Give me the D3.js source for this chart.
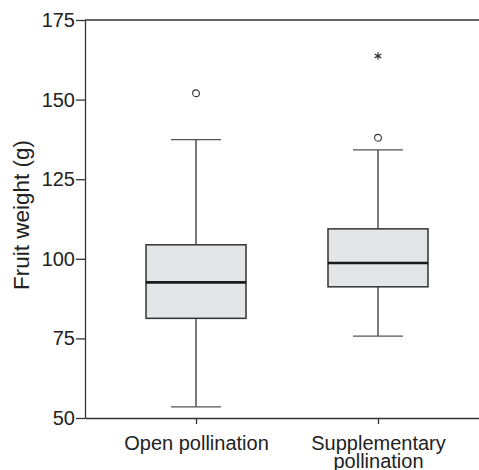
<!DOCTYPE html>
<html>
<head>
<meta charset="utf-8">
<script src="https://cdn.jsdelivr.net/npm/d3@7"></script>
<style>
	body { margin: 0; background: #fff; }
	svg { display: block; font-family: "Liberation Sans", Arial, sans-serif; }
</style>
</head>
<body>
<svg id="chart"></svg>
<script>
// Values (fruit weight, g)
const categories = ["Open pollination", "Supplementary pollination"];
const whiskerLow = [53.5, 75.7];
const q1 = [81.3, 91.2];
const median = [92.6, 98.7];
const q3 = [104.4, 109.4];
const whiskerHigh = [137.4, 134.2];
const outliers = [[152], [138]];      // drawn as circles
const extremes = [[], [163.7]];       // drawn as asterisks
const yTicks = [50, 75, 100, 125, 150, 175];

const config = {
	width: 479,
	height: 470,
	margin: { top: 20, right: -10, bottom: 52, left: 85 }
};

const innerWidth = config.width - config.margin.left - config.margin.right;
const innerHeight = config.height - config.margin.top - config.margin.bottom;

const svg = d3.select('#chart')
	.attr('width', config.width)
	.attr('height', config.height);

const chartArea = svg.append('g')
	.attr('transform', `translate(${config.margin.left},${config.margin.top})`);

const yScale = d3.scaleLinear()
	.domain([50, 175])
	.range([innerHeight, 0]);

const xScale = d3.scalePoint()
	.domain(categories)
	.range([0, innerWidth])
	.padding(0.61);

const boxes = categories.map((c, i) => ({
	cat: c,
	lo: whiskerLow[i], q1: q1[i], med: median[i], q3: q3[i], hi: whiskerHigh[i],
	out: outliers[i], ext: extremes[i]
}));

const boxWidth = 100;
const capWidth = 50;
const lineColour = '#333';

// top frame line
chartArea.append('line')
	.attr('x1', 0).attr('x2', innerWidth)
	.attr('y1', 0).attr('y2', 0)
	.attr('stroke', lineColour)
	.attr('stroke-width', 1.3);

// Axes
const yAxis = d3.axisLeft(yScale)
	.tickValues(yTicks)
	.tickSize(9)
	.tickSizeOuter(0)
	.tickPadding(1);

const yAxisG = chartArea.append('g')
	.attr('class', 'axis y-axis')
	.call(yAxis);

const xAxis = d3.axisBottom(xScale)
	.tickSize(6)
	.tickSizeOuter(0)
	.tickFormat('');

const xAxisG = chartArea.append('g')
	.attr('class', 'axis x-axis')
	.attr('transform', `translate(0,${innerHeight})`)
	.call(xAxis);

chartArea.selectAll('.axis path, .axis line')
	.attr('stroke', lineColour)
	.attr('stroke-width', 1.3);

yAxisG.selectAll('text')
	.attr('font-size', 20)
	.attr('fill', '#222');

// Category labels, the long one wraps onto two lines
const labelLines = {
	"Open pollination": ["Open pollination"],
	"Supplementary pollination": ["Supplementary", "pollination"]
};

xAxisG.selectAll('.tick').append('text')
	.attr('fill', '#222')
	.attr('font-size', 20)
	.attr('text-anchor', 'middle')
	.selectAll('tspan')
	.data(d => labelLines[d])
	.join('tspan')
	.attr('x', 0)
	.attr('y', (d, i) => 32 + i * 18)
	.text(d => d);

// y axis title
chartArea.append('text')
	.attr('transform', 'rotate(-90)')
	.attr('x', -195)
	.attr('y', -56)
	.attr('text-anchor', 'middle')
	.attr('font-size', 22.5)
	.attr('fill', '#222')
	.text('Fruit weight (g)');

// Boxes
const boxG = chartArea.selectAll('.box')
	.data(boxes)
	.join('g')
	.attr('class', 'box')
	.attr('transform', d => `translate(${xScale(d.cat)},0)`);

// whisker stems
boxG.append('line')
	.attr('y1', d => yScale(d.lo)).attr('y2', d => yScale(d.hi))
	.attr('stroke', lineColour).attr('stroke-width', 1.3);

// caps
boxG.selectAll('.cap')
	.data(d => [d.lo, d.hi])
	.join('line')
	.attr('class', 'cap')
	.attr('x1', -capWidth / 2).attr('x2', capWidth / 2)
	.attr('y1', d => yScale(d)).attr('y2', d => yScale(d))
	.attr('stroke', '#555').attr('stroke-width', 1.3);

boxG.append('rect')
	.attr('x', -boxWidth / 2)
	.attr('width', boxWidth)
	.attr('y', d => yScale(d.q3))
	.attr('height', d => yScale(d.q1) - yScale(d.q3))
	.attr('fill', '#e4e5e7')
	.attr('stroke', lineColour)
	.attr('stroke-width', 1.5);

boxG.append('line')
	.attr('x1', -boxWidth / 2).attr('x2', boxWidth / 2)
	.attr('y1', d => yScale(d.med)).attr('y2', d => yScale(d.med))
	.attr('stroke', '#1a1a1a').attr('stroke-width', 2.6);

// outliers
boxG.selectAll('.outlier')
	.data(d => d.out)
	.join('circle')
	.attr('class', 'outlier')
	.attr('r', 3.4)
	.attr('cy', d => yScale(d))
	.attr('fill', 'none')
	.attr('stroke', lineColour)
	.attr('stroke-width', 1.1);

// extreme values
boxG.selectAll('.extreme')
	.data(d => d.ext)
	.join('path')
	.attr('class', 'extreme')
	.attr('d', d3.symbol(d3.symbolAsterisk, 40))
	.attr('transform', d => `translate(0,${yScale(d)})`)
	.attr('stroke', lineColour)
	.attr('stroke-width', 1.2);
</script>
</body>
</html>
